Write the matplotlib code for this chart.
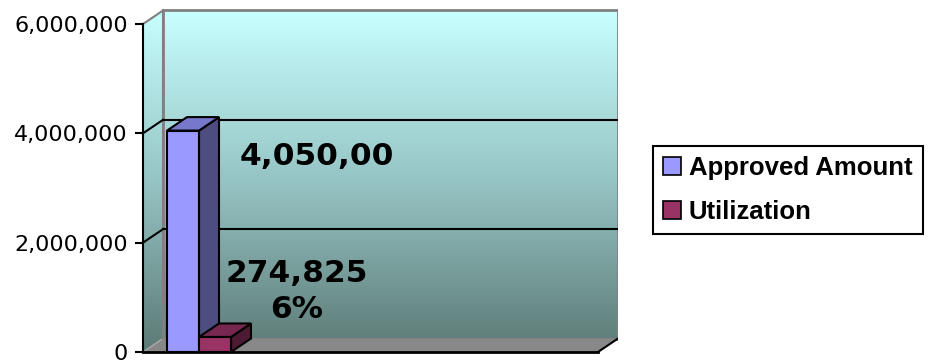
import matplotlib.pyplot as plt
import numpy as np
from matplotlib.patches import Polygon, Patch
from matplotlib.ticker import FuncFormatter

series = ["Approved Amount", "Utilization"]
values = [4050000, 274825]
labels = ["4,050,00", "274,825\n6%"]
yticks = [0, 2000000, 4000000, 6000000]

front = ["#9999FF", "#993366"]
side = ["#4D4D80", "#4D1A33"]
top = ["#7777CC", "#772850"]

fig = plt.figure(figsize=(9.45, 3.64), dpi=100)
ax = fig.add_axes([143 / 945, 12 / 364, 475 / 945, 343 / 364])

ymax = 6000000
ax.set_xlim(0, 475 / 455)
ax.set_ylim(0, 343 / 328 * ymax)
dx = 20 / 455            # depth offset in x
dy = 13.5 / 328 * ymax   # depth offset in y
xr = 1.0                 # right end of front plane

# gradient walls
grad = np.linspace(0, 1, 256)[:, None]
cols = np.array([[200, 255, 255], [150, 196, 196], [92, 122, 118]]) / 255
img = np.empty((256, 1, 3))
for c in range(3):
    img[:, 0, c] = np.interp(grad[:, 0], [0, 0.5, 1], cols[:, c])

back = Polygon([(dx, dy), (xr + dx, dy), (xr + dx, ymax + dy), (dx, ymax + dy)],
               closed=True, facecolor="none", edgecolor="#808080", lw=2, zorder=2)
left = Polygon([(0, 0), (dx, dy), (dx, ymax + dy), (0, ymax)], closed=True,
               facecolor="none", edgecolor="none", zorder=2)
ax.add_patch(back)
ax.add_patch(left)
for poly in (back, left):
    im = ax.imshow(img, extent=[0, xr + dx, 0, ymax + dy], aspect="auto",
                   origin="upper", zorder=1)
    im.set_clip_path(poly)

# floor
floor = Polygon([(0, 0), (xr, 0), (xr + dx, dy), (dx, dy)], closed=True,
                facecolor="#888888", edgecolor="none", zorder=2)
ax.add_patch(floor)
ax.plot([xr, xr + dx], [0, dy], color="black", lw=1.5, zorder=3)
ax.plot([0, dx], [0, dy], color="#aaaaaa", lw=1, zorder=3)
ax.plot([dx, dx], [dy, ymax + dy], color="#808080", lw=1.5, zorder=3)

# gridlines
for v in yticks[1:]:
    col = "black" if v < ymax else "#808080"
    ax.plot([0, dx], [v, v + dy], color=col, lw=1.5, zorder=3)
    if v < ymax:
        ax.plot([dx, xr + dx], [v + dy, v + dy], color="black", lw=1.5, zorder=3)

# bars
bw = 32 / 455
x0 = 24 / 455
for i, v in enumerate(values):
    xl = x0 + i * bw
    ax.add_patch(Polygon([(xl + bw, 0), (xl + bw + dx, dy), (xl + bw + dx, v + dy), (xl + bw, v)],
                         closed=True, facecolor=side[i], edgecolor="black", lw=1.5, zorder=5))
    ax.add_patch(Polygon([(xl, v), (xl + bw, v), (xl + bw + dx, v + dy), (xl + dx, v + dy)],
                         closed=True, facecolor=top[i], edgecolor="black", lw=1.5, zorder=5))
    ax.bar(xl, v, width=bw, align="edge", color=front[i], edgecolor="black", lw=1.5, zorder=6)

# data labels
ax.annotate(labels[0], (x0 + bw, values[0]), xytext=(29, -19), textcoords="offset points",
            ha="left", va="center", fontsize=22.5, fontweight="bold", zorder=8)
ax.annotate(labels[1], (x0 + 2 * bw, values[1]), xytext=(47, 33), textcoords="offset points",
            ha="center", va="center", fontsize=22.5, fontweight="bold", linespacing=1.3, zorder=8)

# axes
for s in ["top", "right", "bottom"]:
    ax.spines[s].set_visible(False)
ax.spines["left"].set_bounds(0, ymax)
ax.spines["left"].set_linewidth(1.5)
ax.spines["left"].set_zorder(7)
ax.plot([0, xr], [0, 0], color="black", lw=2, zorder=7, clip_on=False)
ax.set_xticks([])
ax.set_yticks(yticks)
ax.yaxis.set_major_formatter(FuncFormatter(lambda v, p: f"{int(v):,}"))
ax.tick_params(axis="y", length=6, width=1.5, pad=5, labelsize=16)

handles = [Patch(facecolor=front[i], edgecolor="black", lw=1.2) for i in range(2)]
leg = fig.legend(handles, series, loc="upper left", bbox_to_anchor=(653 / 945, 1 - 146 / 364),
                 prop={"family": "Liberation Sans", "weight": "bold", "size": 18.5},
                 handlelength=0.7, handleheight=0.7, handletextpad=0.3,
                 labelspacing=0.75, borderpad=0.4, borderaxespad=0, fancybox=False,
                 framealpha=1)
leg.get_frame().set_edgecolor("black")
leg.get_frame().set_linewidth(1.5)

fig.savefig("out.png", dpi=100)
